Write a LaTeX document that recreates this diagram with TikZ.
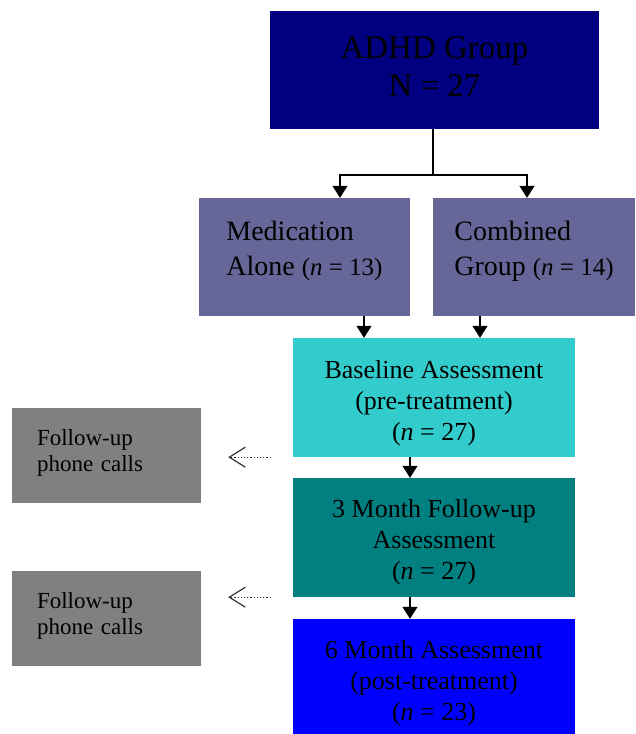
\documentclass[tikz,border=0pt]{standalone}
\usepackage{fontspec}
\setmainfont{Liberation Serif}
\usepackage{xcolor}
\usetikzlibrary{arrows.meta,positioning,calc}

\definecolor{adhdblue}{HTML}{000080}
\definecolor{groupgray}{HTML}{666699}
\definecolor{basecyan}{HTML}{33CCCC}
\definecolor{threeteal}{HTML}{008080}
\definecolor{sixblue}{HTML}{0000FF}
\definecolor{callgray}{HTML}{808080}

\begin{document}
\begin{tikzpicture}[
    x=1pt, y=-1pt,
    group/.style={rectangle, inner sep=0pt, minimum height=118pt, align=left, fill=groupgray, font=\fontsize{28}{35}\selectfont},
    assess/.style={rectangle, inner sep=0pt, minimum width=282pt, minimum height=119pt, align=center, font=\fontsize{26}{31}\selectfont},
    call/.style={rectangle, fill=callgray, inner xsep=25pt, inner ysep=0pt, text width=139pt, minimum height=95pt, align=left, font=\fontsize{23}{26}\selectfont},
    arrow/.style={-{Triangle[width=15pt,length=12pt]}, line width=1.3pt},
    dotarrow/.style={-{Straight Barb[width=20pt,length=16pt]}, dotted, line width=1.2pt, draw=black!80},
]
    \useasboundingbox (0,0) rectangle (635,734);

    % Sample
    \node[rectangle, fill=adhdblue, minimum width=329pt, minimum height=118pt, inner sep=0pt, align=center, font=\fontsize{33}{38}\selectfont] (adhd) at (434.5,70) {ADHD Group\\N = 27\rule[-6pt]{0pt}{1pt}};

    % Treatment groups
    \node[group, minimum width=211pt] (med) at (304.5,257) {Medication\\Alone {\fontsize{25}{31}\selectfont(\textit{n} = 13)}\rule[-18pt]{0pt}{1pt}};
    \node[group, minimum width=202pt] (comb) at (534,257) {Combined\\Group {\fontsize{25}{31}\selectfont(\textit{n} = 14)}\rule[-18pt]{0pt}{1pt}};

    % Assessments
    \node[assess, fill=basecyan] (base) at (434,397.5) {\rule{0pt}{30pt}Baseline Assessment\\(pre-treatment)\\(\textit{n} = 27)};
    \node[assess, fill=threeteal] (three) at (434,537.5) {\rule{0pt}{28pt}3 Month Follow-up\\Assessment\\(\textit{n} = 27)};
    \node[assess, fill=sixblue] (six) at (434,678.5) {\rule{0pt}{28pt}6 Month Assessment\\(post-treatment)\\(\textit{n} = 23)};

    % Phone calls
    \node[call] (call1) at (106.5,455.5) {Follow-up\\phone calls\rule[-9pt]{0pt}{1pt}};
    \node[call] (call2) at (106.5,618.5) {Follow-up\\phone calls\rule[-9pt]{0pt}{1pt}};

    % Arrows
    \coordinate (split) at (433,175);
    \draw[line width=1.3pt] (adhd.south -| split) -- (split);
    \draw[arrow] (split) -| ([xshift=35.5pt]med.north);
    \draw[arrow] (split) -| ([xshift=-7pt]comb.north);
    \draw[arrow] ([xshift=59.5pt]med.south) -- ([xshift=59.5pt]med.south |- base.north);
    \draw[arrow] ([xshift=-54pt]comb.south) -- ([xshift=-54pt]comb.south |- base.north);
    \draw[arrow] ([xshift=-24pt]base.south) -- ([xshift=-24pt]three.north);
    \draw[arrow] ([xshift=-24pt]three.south) -- ([xshift=-24pt]six.north);

    % Dotted links
    \draw[dotarrow, shorten >=27pt] ([xshift=-22pt]base.south west) -- (base.south west -| call1.east);
    \draw[dotarrow, shorten >=27pt] ([xshift=-22pt]three.south west) -- (three.south west -| call2.east);

\end{tikzpicture}
\end{document}
